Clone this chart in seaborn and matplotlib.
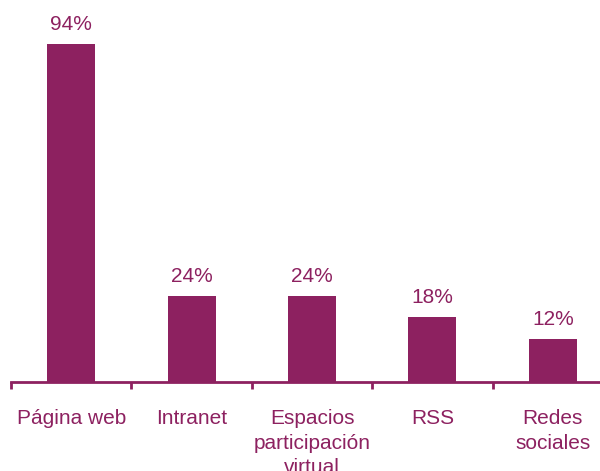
import matplotlib
matplotlib.use("Agg")
import matplotlib.pyplot as plt
import seaborn as sns
import pandas as pd

categories = ["Página web", "Intranet", "Espacios\nparticipación\nvirtual", "RSS", "Redes\nsociales"]
values = [94, 24, 24, 18, 12]
value_labels = ["94%", "24%", "24%", "18%", "12%"]

COLOR = "#8D2160"

sns.set_style("white")
plt.rcParams["font.family"] = ["Liberation Sans", "DejaVu Sans"]

fig = plt.figure(figsize=(6, 4.71), dpi=100)
ax = fig.add_axes([11 / 600, 89 / 471, 602 / 600, 360 / 471])

df = pd.DataFrame({"cat": categories, "val": values})
sns.barplot(data=df, x="cat", y="val", color=COLOR, saturation=1, width=0.4,
            linewidth=0, ax=ax)

ax.set_xlim(-0.5, 4.5)
ax.set_ylim(0, 100)
ax.set_xlabel("")
ax.set_ylabel("")
ax.set_yticks([])

for s in ["left", "top", "right"]:
    ax.spines[s].set_visible(False)
ax.spines["bottom"].set_color(COLOR)
ax.spines["bottom"].set_linewidth(2)

ax.set_xticks(range(len(categories)))
ax.set_xticklabels(categories, fontsize=15, color=COLOR, linespacing=1.38, va="top")
ax.tick_params(axis="x", which="major", length=0, pad=19.5)
ax.set_xticks([i - 0.5 for i in range(len(categories) + 1)], minor=True)
ax.tick_params(axis="x", which="minor", length=5, width=2, color=COLOR, direction="out", bottom=True)

ax.bar_label(ax.containers[0], labels=value_labels, padding=7, fontsize=15, color=COLOR)

fig.savefig("out.png", dpi=100)
